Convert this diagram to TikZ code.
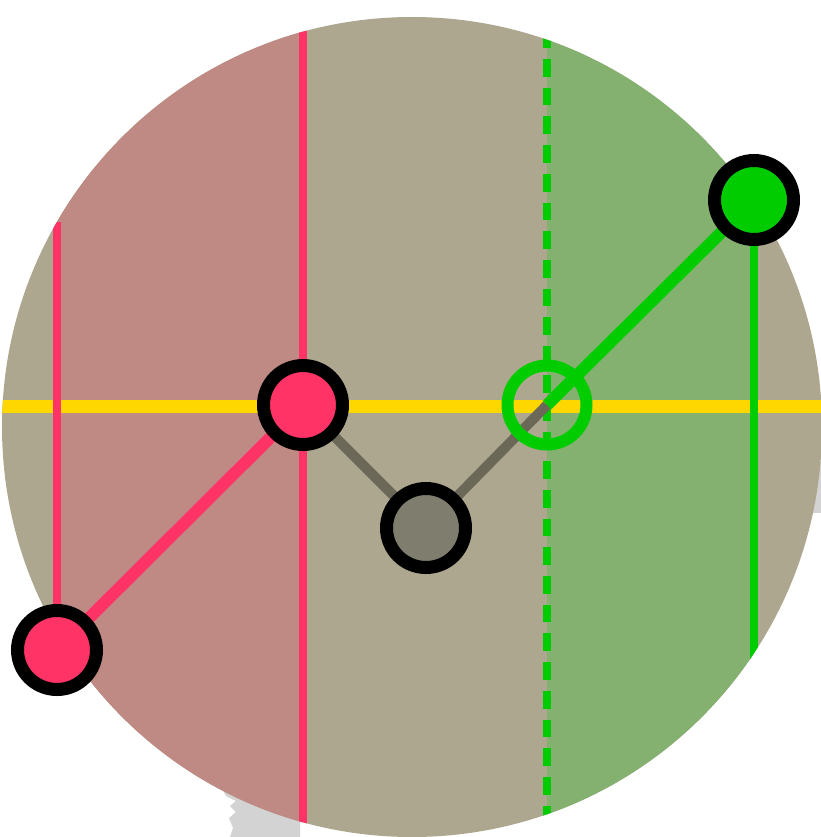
\documentclass[tikz,border=0pt]{standalone}
\usetikzlibrary{backgrounds}
\definecolor{beige}{HTML}{ADA78F}
\definecolor{redband}{HTML}{C08A84}
\definecolor{greenband}{HTML}{84B070}
\definecolor{pinkc}{HTML}{FF3366}
\definecolor{greenc}{HTML}{00CC00}
\definecolor{grayfill}{HTML}{7F7E6E}
\definecolor{grayline}{HTML}{6B6858}
\definecolor{yellowc}{HTML}{FFD700}
\definecolor{blobc}{HTML}{D3D3D3}
\pgfdeclarelayer{back}
\pgfdeclarelayer{mid}
\pgfsetlayers{back,mid,main}
\tikzset{
  dot/.style={circle, draw=black, line width=13pt, minimum size=79pt, inner sep=0pt},
  ring/.style={circle, draw=greenc, line width=12pt, minimum size=79pt, inner sep=0pt},
  vline/.style={line width=8pt},
  conn/.style={line width=12pt},
}
\begin{document}
\begin{tikzpicture}[x=1pt,y=-1pt]
\useasboundingbox (0,0) rectangle (820,837);
\clip (0,0) rectangle (820,837);
% nodes
\node[dot, fill=pinkc] (A) at (57,650) {};
\node[dot, fill=pinkc] (B) at (303,405) {};
\node[dot, fill=grayfill] (C) at (426,528) {};
\node[ring] (D) at (547,405) {};
\node[dot, fill=greenc] (E) at (754,200) {};
\coordinate (Atop) at (57,222);
\begin{pgfonlayer}{back}
  % shadow blobs
  \fill[blobc] (222,788) -- (226,796) -- (236,801) -- (230,806) -- (236,812) -- (229,818) -- (233,828) -- (230,837) -- (300,837) -- (300,800) -- cycle;
  \fill[blobc] (805,462) rectangle (825,513);
  % disc
  \fill[beige] (412,427) circle[radius=410];
  \begin{scope}
    \clip (412,427) circle[radius=410];
    \fill[redband] (57,0) rectangle (303,837);
    \fill[greenband] (547,0) rectangle (754,837);
    \draw[yellowc, line width=13pt] (0,406.5) -- (830,406.5);
    \draw[pinkc, vline] (Atop) -- (A.center);
    \draw[pinkc, vline] (303,0) -- (303,837);
    \draw[greenc, vline] (E.center) -- (754,837);
    \draw[greenc, vline, dash pattern=on 17.7pt off 11.02pt] (547,30.28) -- (547,837);
  \end{scope}
\end{pgfonlayer}
\begin{pgfonlayer}{mid}
  \draw[pinkc, conn] (A.center) -- (B.center);
  \draw[grayline, line width=10pt] (B.center) -- (C.center) -- (D.center);
  \draw[greenc, conn] (D.center) -- (E.center);
\end{pgfonlayer}
\end{tikzpicture}
\end{document}
